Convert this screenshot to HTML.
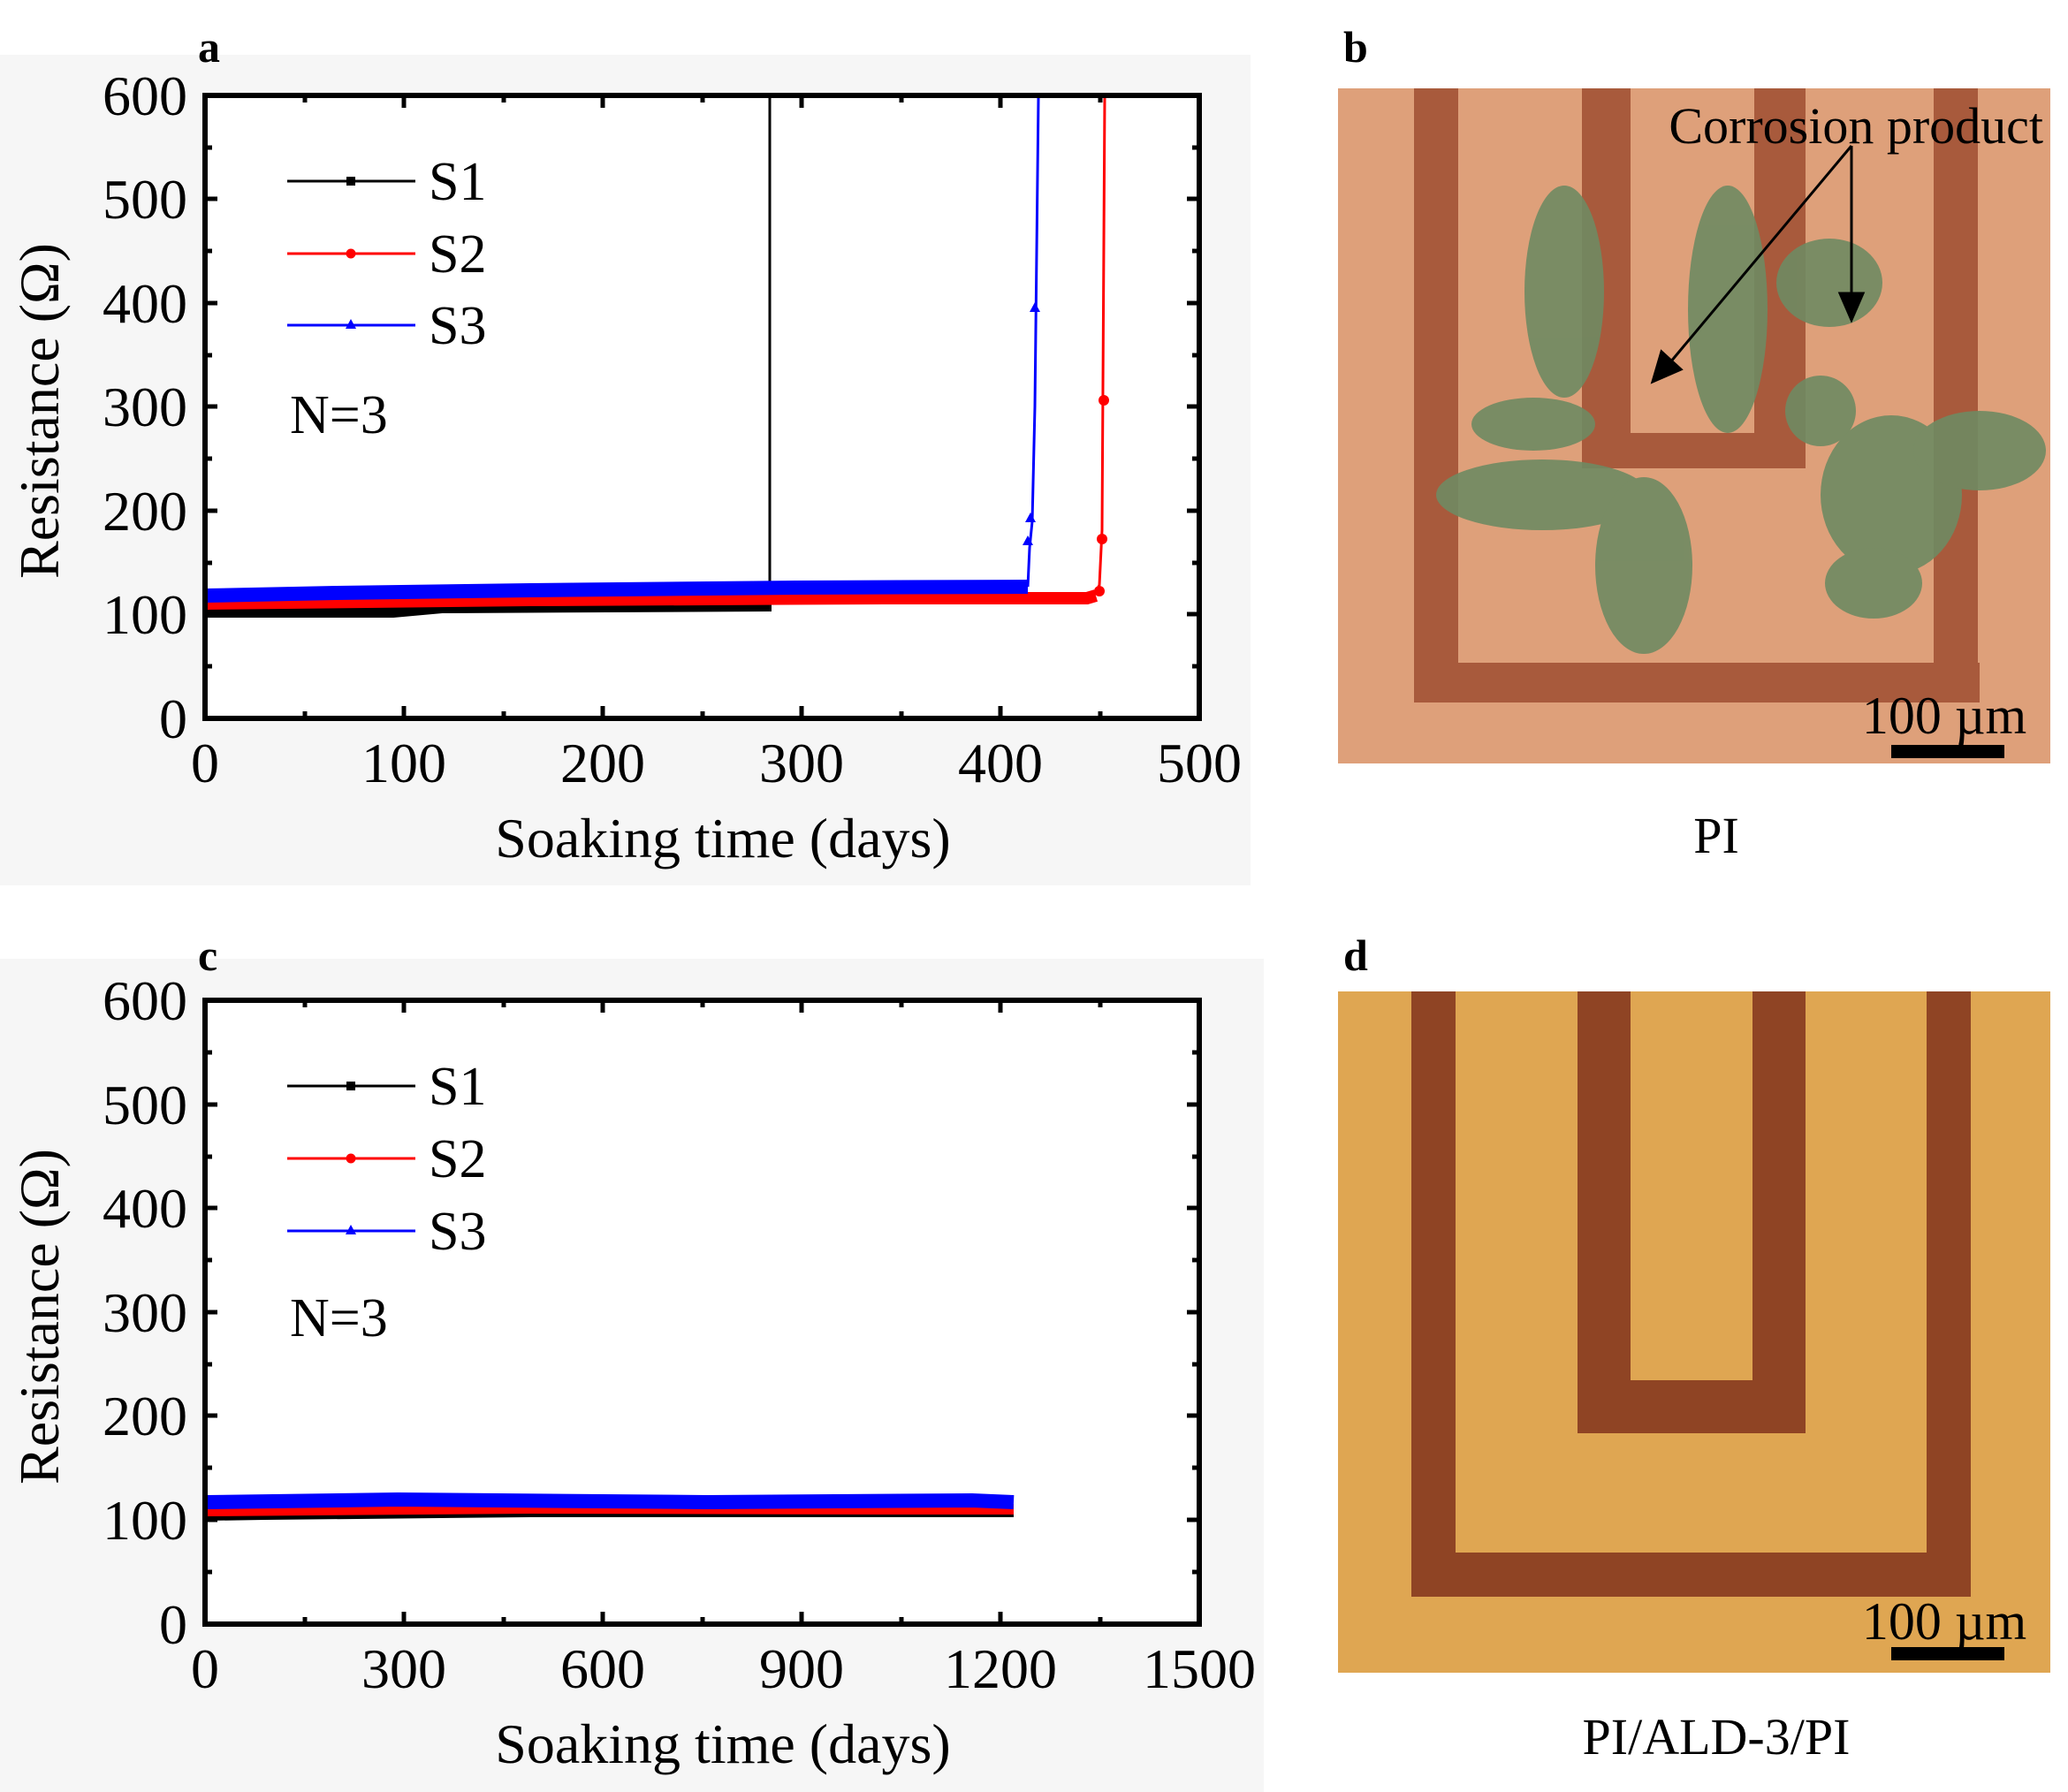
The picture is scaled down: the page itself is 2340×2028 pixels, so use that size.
<!DOCTYPE html>
<html><head><meta charset="utf-8"><style>
html,body{margin:0;padding:0;background:#fff;}
svg{display:block;font-family:"Liberation Serif",serif;}
</style></head><body>
<svg width="2340" height="2028" viewBox="0 0 2340 2028" xmlns="http://www.w3.org/2000/svg">
<rect x="0" y="0" width="2340" height="2028" fill="#fff"/>
<rect x="0" y="62" width="1415" height="940" fill="#f6f6f6"/>
<rect x="0" y="1085" width="1430" height="943" fill="#f6f6f6"/>
<rect x="232" y="108" width="1125" height="705" fill="#fff"/>
<rect x="232" y="1132" width="1125" height="706" fill="#fff"/>

<g font-weight="bold" font-size="50">
<text x="224" y="70">a</text>
<text x="1520" y="70">b</text>
<text x="224" y="1098">c</text>
<text x="1520" y="1098">d</text>
</g>

<!-- ===== Panel a ===== -->
<g>
<polyline points="234,693 445,693 500,688 870,686 873,686" fill="none" stroke="#000" stroke-width="12"/>
<line x1="871" y1="686" x2="871" y2="110" stroke="#000" stroke-width="3"/>
<polyline points="234,682 500,679 900,675 1220,673 1240,670 1244,662 1247,600 1250,110" fill="none" stroke="#f00" stroke-width="3"/>
<polyline points="234,683 600,679 1000,677 1230,677 1240,674" fill="none" stroke="#f00" stroke-width="14"/>
<circle cx="1244" cy="669" r="6" fill="#f00"/>
<circle cx="1247" cy="610" r="6" fill="#f00"/>
<circle cx="1249" cy="453" r="6" fill="#f00"/>
<polyline points="234,674 380,671 600,668 900,665 1163,664" fill="none" stroke="#00f" stroke-width="16"/>
<polyline points="1163,664 1165,620 1168,590 1171,460 1175,110" fill="none" stroke="#00f" stroke-width="3"/>
<polygon points="1163,606 1157,617 1169,617" fill="#00f"/>
<polygon points="1166,580 1160,591 1172,591" fill="#00f"/>
<polygon points="1171,342 1165,353 1177,353" fill="#00f"/>
<rect x="232" y="108" width="1125" height="705" fill="none" stroke="#000" stroke-width="6"/>
<g stroke="#000" stroke-width="5">
<path d="M232,695h14M232,578h14M232,460h14M232,343h14M232,225h14M1357,695h-14M1357,578h-14M1357,460h-14M1357,343h-14M1357,225h-14"/>
<path d="M232,754h8M232,637h8M232,519h8M232,402h8M232,284h8M232,167h8M1357,754h-8M1357,637h-8M1357,519h-8M1357,402h-8M1357,284h-8M1357,167h-8"/>
<path d="M457,813v-14M682,813v-14M907,813v-14M1132,813v-14M457,108v14M682,108v14M907,108v14M1132,108v14"/>
<path d="M345,813v-8M570,813v-8M795,813v-8M1020,813v-8M1245,813v-8M345,108v8M570,108v8M795,108v8M1020,108v8M1245,108v8"/>
</g>
<g font-size="64" text-anchor="end">
<text x="212" y="835">0</text><text x="212" y="717">100</text><text x="212" y="600">200</text>
<text x="212" y="482">300</text><text x="212" y="365">400</text><text x="212" y="247">500</text><text x="212" y="130">600</text>
</g>
<g font-size="64" text-anchor="middle">
<text x="232" y="885">0</text><text x="457" y="885">100</text><text x="682" y="885">200</text>
<text x="907" y="885">300</text><text x="1132" y="885">400</text><text x="1357" y="885">500</text>
<text x="818" y="970">Soaking time (days)</text>
<text transform="translate(66,465) rotate(-90)">Resistance (Ω)</text>
</g>
<line x1="325" y1="205" x2="470" y2="205" stroke="#000" stroke-width="3"/><rect x="392" y="200" width="10" height="10" fill="#000"/>
<line x1="325" y1="287" x2="470" y2="287" stroke="#f00" stroke-width="3"/><circle cx="397" cy="287" r="5.5" fill="#f00"/>
<line x1="325" y1="368" x2="470" y2="368" stroke="#00f" stroke-width="3"/><polygon points="397,361 391,372 403,372" fill="#00f"/>
<g font-size="62"><text x="485" y="226">S1</text><text x="485" y="308">S2</text><text x="485" y="389">S3</text>
<text x="328" y="490">N=3</text></g>
</g>

<!-- ===== Panel c ===== -->
<g>
<polyline points="234,1717 300,1716 600,1713 1000,1713 1147,1713" fill="none" stroke="#000" stroke-width="8"/>
<polyline points="234,1710 600,1707 1000,1708 1147,1708" fill="none" stroke="#f00" stroke-width="12"/>
<polyline points="234,1700 450,1697 800,1700 1100,1698 1147,1700" fill="none" stroke="#00f" stroke-width="16"/>
<rect x="232" y="1132" width="1125" height="706" fill="none" stroke="#000" stroke-width="6"/>
<g stroke="#000" stroke-width="5">
<path d="M232,1720h14M232,1602h14M232,1485h14M232,1367h14M232,1250h14M1357,1720h-14M1357,1602h-14M1357,1485h-14M1357,1367h-14M1357,1250h-14"/>
<path d="M232,1779h8M232,1661h8M232,1544h8M232,1426h8M232,1309h8M232,1191h8M1357,1779h-8M1357,1661h-8M1357,1544h-8M1357,1426h-8M1357,1309h-8M1357,1191h-8"/>
<path d="M457,1838v-14M682,1838v-14M907,1838v-14M1132,1838v-14M457,1132v14M682,1132v14M907,1132v14M1132,1132v14"/>
<path d="M345,1838v-8M570,1838v-8M795,1838v-8M1020,1838v-8M1245,1838v-8M345,1132v8M570,1132v8M795,1132v8M1020,1132v8M1245,1132v8"/>
</g>
<g font-size="64" text-anchor="end">
<text x="212" y="1860">0</text><text x="212" y="1742">100</text><text x="212" y="1624">200</text>
<text x="212" y="1507">300</text><text x="212" y="1389">400</text><text x="212" y="1272">500</text><text x="212" y="1154">600</text>
</g>
<g font-size="64" text-anchor="middle">
<text x="232" y="1910">0</text><text x="457" y="1910">300</text><text x="682" y="1910">600</text>
<text x="907" y="1910">900</text><text x="1132" y="1910">1200</text><text x="1357" y="1910">1500</text>
<text x="818" y="1995">Soaking time (days)</text>
<text transform="translate(66,1490) rotate(-90)">Resistance (Ω)</text>
</g>
<line x1="325" y1="1229" x2="470" y2="1229" stroke="#000" stroke-width="3"/><rect x="392" y="1224" width="10" height="10" fill="#000"/>
<line x1="325" y1="1311" x2="470" y2="1311" stroke="#f00" stroke-width="3"/><circle cx="397" cy="1311" r="5.5" fill="#f00"/>
<line x1="325" y1="1393" x2="470" y2="1393" stroke="#00f" stroke-width="3"/><polygon points="397,1386 391,1397 403,1397" fill="#00f"/>
<g font-size="62"><text x="485" y="1250">S1</text><text x="485" y="1332">S2</text><text x="485" y="1414">S3</text>
<text x="328" y="1512">N=3</text></g>
</g>

<!-- ===== Photo b ===== -->
<g>
<rect x="1514" y="100" width="806" height="764" fill="#dea07a"/>
<g fill="#a85a3c">
<rect x="1600" y="100" width="50" height="695"/>
<rect x="1600" y="750" width="640" height="45"/>
<rect x="2188" y="100" width="50" height="695"/>
<rect x="1790" y="100" width="55" height="430"/>
<rect x="1985" y="100" width="58" height="430"/>
<rect x="1790" y="490" width="253" height="40"/>
</g>
<g fill="#6f8a62" opacity="0.9">
<ellipse cx="1770" cy="330" rx="45" ry="120"/>
<ellipse cx="1735" cy="480" rx="70" ry="30"/>
<ellipse cx="1745" cy="560" rx="120" ry="40"/>
<ellipse cx="1860" cy="640" rx="55" ry="100"/>
<ellipse cx="1955" cy="350" rx="45" ry="140"/>
<ellipse cx="2070" cy="320" rx="60" ry="50"/>
<ellipse cx="2060" cy="465" rx="40" ry="40"/>
<ellipse cx="2140" cy="560" rx="80" ry="90"/>
<ellipse cx="2240" cy="510" rx="75" ry="45"/>
<ellipse cx="2120" cy="660" rx="55" ry="40"/>
</g>
<g stroke="#000" stroke-width="3" fill="#000">
<line x1="2095" y1="165" x2="1890" y2="410"/>
<polygon points="1870,432 1880,398 1902,418"/>
<line x1="2095" y1="165" x2="2095" y2="335"/>
<polygon points="2095,362 2082,332 2108,332"/>
</g>
<text x="2312" y="162" font-size="58" text-anchor="end">Corrosion product</text>
<text x="2200" y="830" font-size="60" text-anchor="middle">100 µm</text>
<rect x="2140" y="843" width="128" height="15" fill="#000"/>
<text x="1942" y="965" font-size="58" text-anchor="middle">PI</text>
</g>

<!-- ===== Photo d ===== -->
<g>
<rect x="1514" y="1122" width="806" height="771" fill="#dfa652"/>
<g fill="#8f4424">
<rect x="1597" y="1122" width="50" height="685"/>
<rect x="1597" y="1757" width="633" height="50"/>
<rect x="2180" y="1122" width="50" height="685"/>
<rect x="1785" y="1122" width="60" height="500"/>
<rect x="1983" y="1122" width="60" height="500"/>
<rect x="1785" y="1562" width="258" height="60"/>
</g>
<text x="2200" y="1855" font-size="60" text-anchor="middle">100 µm</text>
<rect x="2140" y="1864" width="128" height="15" fill="#000"/>
<text x="1942" y="1985" font-size="58" text-anchor="middle">PI/ALD-3/PI</text>
</g>
</svg>
</body></html>
